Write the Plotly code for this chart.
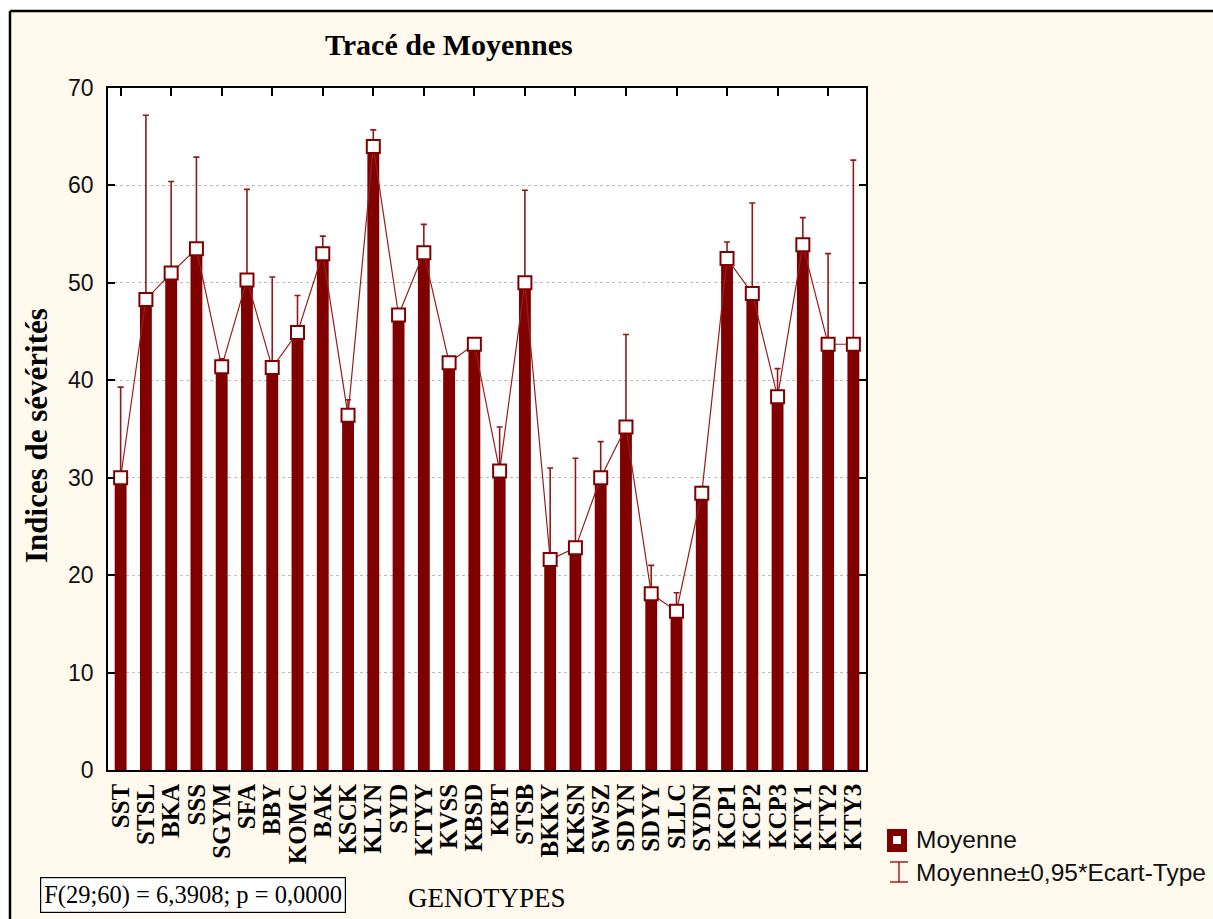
import plotly.graph_objects as go

genotypes = ["SST", "STSL", "BKA", "SSS", "SGYM", "SFA", "BBY", "KOMC", "BAK", "KSCK",
             "KLYN", "SYD", "KTYY", "KVSS", "KBSD", "KBT", "STSB", "BKKY", "KKSN", "SWSZ",
             "SDYN", "SDYY", "SLLC", "SYDN", "KCP1", "KCP2", "KCP3", "KTY1", "KTY2", "KTY3"]
moyennes = [30.0, 48.3, 51.0, 53.5, 41.4, 50.3, 41.3, 44.9, 53.0, 36.4,
            64.0, 46.7, 53.1, 41.8, 43.7, 30.7, 50.0, 21.6, 22.8, 30.0,
            35.2, 18.1, 16.3, 28.4, 52.5, 48.9, 38.3, 53.9, 43.7, 43.7]
# upper bound = Moyenne + 0,95*Ecart-Type
bornes_sup = [39.3, 67.2, 60.4, 62.9, 42.2, 59.6, 50.6, 48.7, 54.8, 38.0,
              65.7, 47.3, 56.0, 42.3, 44.0, 35.2, 59.5, 31.0, 32.0, 33.7,
              44.7, 21.0, 18.2, 29.1, 54.2, 58.2, 41.2, 56.7, 53.0, 62.6]
y_ticks = [0, 10, 20, 30, 40, 50, 60, 70]

W, H = 1213, 919
L, R, T, B = 108, 866, 88, 770


def px(x):
    return (x - L) / (R - L)


def py(y):
    return (B - y) / (B - T)


DARK = "#800000"
err_plus = [s - m for s, m in zip(bornes_sup, moyennes)]

fig = go.Figure()
fig.add_trace(go.Bar(x=genotypes, y=moyennes, marker=dict(color=DARK, line=dict(width=0)),
                     width=0.47, showlegend=False, hoverinfo="x+y"))
fig.add_trace(go.Scatter(
    x=genotypes, y=moyennes, mode="lines+markers",
    line=dict(color="#951f1f", width=1.2),
    marker=dict(symbol="square", size=13, color="white", line=dict(color=DARK, width=2)),
    error_y=dict(type="data", symmetric=False, array=err_plus, arrayminus=[0] * len(moyennes),
                 color="#8e1b1b", thickness=1.6, width=3),
    showlegend=False))
# invisible trace to activate the top tick axis
fig.add_trace(go.Scatter(x=genotypes, y=moyennes, xaxis="x2", mode="markers",
                         marker=dict(opacity=0), showlegend=False, hoverinfo="skip"))

serif = "Liberation Serif, Times New Roman, serif"
sans = "Liberation Sans, Arial, sans-serif"

fig.update_layout(
    width=W, height=H, autosize=False,
    margin=dict(l=L, r=W - R, t=T, b=H - B),
    paper_bgcolor="#fff9ee", plot_bgcolor="white",
    xaxis=dict(type="category", categoryorder="array", categoryarray=genotypes,
               tickmode="array", tickvals=genotypes,
               ticktext=["<b>%s</b>" % g for g in genotypes],
               showline=True, linecolor="black", linewidth=1.5, mirror=True,
               ticks="", tickangle=-90, showgrid=False, ticklabelstandoff=2,
               tickfont=dict(family=serif, size=25, color="black"),
               range=[-0.5, len(genotypes) - 0.5]),
    xaxis2=dict(type="category", categoryorder="array", categoryarray=genotypes,
                overlaying="x", side="top", showline=False, showgrid=False,
                ticks="inside", ticklen=8, tickwidth=1.5, tickcolor="black",
                tickmode="array", tickvals=genotypes[::2], showticklabels=False,
                range=[-0.5, len(genotypes) - 0.5]),
    yaxis=dict(range=[0, 70], tickvals=y_ticks, showline=True, linecolor="black",
               linewidth=1.5, mirror="ticks", ticks="inside", ticklen=7, tickwidth=1.5,
               tickcolor="black", showgrid=True, gridcolor="#bcbcbc", griddash="dot",
               gridwidth=1, zeroline=False, ticklabelstandoff=8,
               tickfont=dict(family=sans, size=23, color="#111")),
    font=dict(family=sans, color="black"),
)

shapes = [
    # white outside of frame
    dict(type="rect", xref="paper", yref="paper", x0=px(-5), x1=px(W + 5), y0=py(11), y1=py(-5),
         fillcolor="white", line=dict(width=0), layer="below"),
    dict(type="rect", xref="paper", yref="paper", x0=px(-5), x1=px(10), y0=py(H + 5), y1=py(-5),
         fillcolor="white", line=dict(width=0), layer="below"),
    # frame lines
    dict(type="line", xref="paper", yref="paper", x0=px(10), x1=px(W + 5), y0=py(11), y1=py(11),
         line=dict(color="black", width=2.5)),
    dict(type="line", xref="paper", yref="paper", x0=px(10), x1=px(10), y0=py(11), y1=py(H + 5),
         line=dict(color="black", width=2.5)),
    # legend: Moyenne icon
    dict(type="rect", xref="paper", yref="paper", x0=px(887), x1=px(907), y0=py(852), y1=py(829),
         fillcolor=DARK, line=dict(width=0)),
    dict(type="rect", xref="paper", yref="paper", x0=px(893), x1=px(901), y0=py(844), y1=py(836),
         fillcolor="white", line=dict(width=0)),
    # legend: error bar icon
    dict(type="line", xref="paper", yref="paper", x0=px(899), x1=px(899), y0=py(882), y1=py(862),
         line=dict(color="#a02020", width=1.5)),
    dict(type="line", xref="paper", yref="paper", x0=px(890), x1=px(908), y0=py(862), y1=py(862),
         line=dict(color="#a02020", width=1.5)),
    dict(type="line", xref="paper", yref="paper", x0=px(890), x1=px(908), y0=py(882), y1=py(882),
         line=dict(color="#a02020", width=1.5)),
]
fig.update_layout(shapes=shapes)

annotations = [
    dict(text="<b>Tracé de Moyennes</b>", x=px(449), y=py(44), xref="paper", yref="paper",
         showarrow=False, xanchor="center", yanchor="middle",
         font=dict(family=serif, size=30, color="black")),
    dict(text="<b>Indices de sévérités</b>", x=px(36), y=py(436), xref="paper", yref="paper",
         showarrow=False, xanchor="center", yanchor="middle", textangle=-90,
         font=dict(family=serif, size=31, color="black")),
    dict(text="GENOTYPES", x=px(487), y=py(898), xref="paper", yref="paper",
         showarrow=False, xanchor="center", yanchor="middle",
         font=dict(family=serif, size=27, color="black")),
    dict(text="F(29;60) = 6,3908; p = 0,0000", x=px(192.5), y=py(894.5), xref="paper", yref="paper",
         showarrow=False, xanchor="center", yanchor="middle",
         bgcolor="white", bordercolor="black", borderwidth=1.2, borderpad=3,
         font=dict(family=serif, size=24.5, color="black")),
    dict(text="Moyenne", x=px(914), y=py(840), xref="paper", yref="paper",
         showarrow=False, xanchor="left", yanchor="middle",
         font=dict(family=sans, size=24.5, color="#111")),
    dict(text="Moyenne±0,95*Ecart-Type", x=px(914), y=py(872), xref="paper", yref="paper",
         showarrow=False, xanchor="left", yanchor="middle",
         font=dict(family=sans, size=24.5, color="#111")),
]
fig.update_layout(annotations=annotations)

fig.write_html("out.html", config={"displayModeBar": False},
               post_script="document.body.style.margin='0';document.body.style.overflow='hidden';")
